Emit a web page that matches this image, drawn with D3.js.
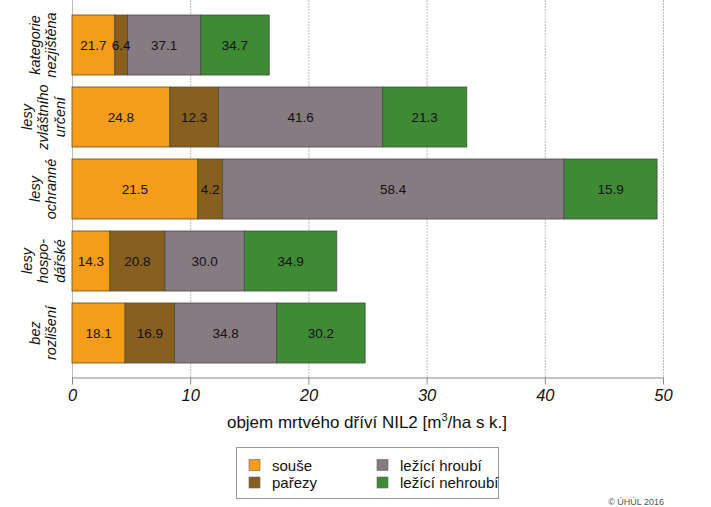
<!DOCTYPE html>
<html><head><meta charset="utf-8">
<script src="https://cdn.jsdelivr.net/npm/d3@7"></script>
<style>body{margin:0;background:#fff}svg{display:block;font-family:"Liberation Sans",Arial,sans-serif}</style>
</head><body>
<script>
// categories top to bottom (lines of each label)
const categories = [
  ["kategorie","nezjištěna"],
  ["lesy","zvláštního","určení"],
  ["lesy","ochranné"],
  ["lesy","hospo-","dářské"],
  ["bez","rozlišení"]
];
const totals = [16.7, 33.4, 49.5, 22.4, 24.8];
const seriesNames = ["souše","pařezy","ležící hroubí","ležící nehroubí"];
const souse   = [21.7, 24.8, 21.5, 14.3, 18.1];
const parezy  = [6.4, 12.3, 4.2, 20.8, 16.9];
const hroubi  = [37.1, 41.6, 58.4, 30.0, 34.8];
const nehroubi= [34.7, 21.3, 15.9, 34.9, 30.2];
const xTicks = [0,10,20,30,40,50];
const colors = ["#f59d18","#87601f","#877b82","#3f8b35"];

const W=711,H=507;
const svg=d3.select("body").append("svg").attr("width",W).attr("height",H);
const x=d3.scaleLinear().domain([0,50]).range([72,663]);
const y=d3.scaleBand().domain(d3.range(categories.length)).range([9,369]).paddingInner(1/6).paddingOuter(1/12);
const axisY=377.5;

// grid
svg.append("g").selectAll("line").data(xTicks).join("line")
  .attr("x1",d=>x(d)+0.5).attr("x2",d=>x(d)+0.5).attr("y1",0).attr("y2",axisY)
  .attr("stroke","#bbb").attr("stroke-width",1).attr("stroke-dasharray",d=>d===0?null:"2,1");

const pcts=[souse,parezy,hroubi,nehroubi];
const rows=categories.map((c,i)=>{
  let cum=0;
  return pcts.map((arr,k)=>{
    const v=totals[i]*arr[i]/100;
    const seg={i,k,x0:cum,x1:cum+v,label:arr[i].toFixed(1)};
    cum+=v; return seg;
  });
}).flat();

const g=svg.append("g");
g.selectAll("rect").data(rows).join("rect")
  .attr("x",d=>x(d.x0)).attr("y",d=>y(d.i)).attr("width",d=>x(d.x1)-x(d.x0)).attr("height",y.bandwidth())
  .attr("fill",d=>colors[d.k]).attr("stroke","#4a4a4a").attr("stroke-width",0.8);
g.selectAll("text").data(rows).join("text")
  .attr("x",d=>(x(d.x0)+x(d.x1))/2).attr("y",d=>y(d.i)+y.bandwidth()/2)
  .attr("text-anchor","middle").attr("dominant-baseline","central")
  .attr("font-size",13.5).attr("fill","#111").text(d=>d.label);

// category labels
categories.forEach((lines,i)=>{
  const cy=y(i)+y.bandwidth()/2;
  const n=lines.length, lh=16.5;
  const cx=43;
  const t=svg.append("text").attr("transform",`translate(${cx},${cy}) rotate(-90)`)
    .attr("text-anchor","middle").attr("font-style","italic").attr("font-size",14.5).attr("fill","#111");
  lines.forEach((l,j)=>{
    t.append("tspan").attr("x",0).attr("y",(j-(n-1)/2)*lh).attr("dominant-baseline","central").text(l);
  });
});

// x axis
const ax=svg.append("g").attr("transform",`translate(0,${axisY})`)
  .call(d3.axisBottom(x).tickValues(xTicks).tickSize(7).tickPadding(5).tickFormat(d3.format("d")));
ax.select(".domain").attr("stroke","#888").attr("d",`M${x(0)},0.5H${x(50)}`);
ax.selectAll(".tick line").attr("stroke","#888");
ax.selectAll(".tick text").attr("font-size",16.5).attr("font-style","italic").attr("fill","#111")
  .attr("font-family","Liberation Sans, Arial, sans-serif");

const title=svg.append("text").attr("x",367).attr("y",428).attr("text-anchor","middle")
  .attr("font-size",17).attr("fill","#111");
title.append("tspan").text("objem mrtvého dříví NIL2 [m");
title.append("tspan").attr("font-size",11).attr("dy",-7).text("3");
title.append("tspan").attr("dy",7).text("/ha s k.]");

// legend
svg.append("rect").attr("x",236.5).attr("y",447.5).attr("width",262).attr("height",51)
  .attr("fill","#fff").attr("stroke","#999").attr("stroke-width",1);
const legPos=[[249,465],[249,482.5],[377,465],[377,482.5]];
seriesNames.forEach((n,k)=>{
  const [lx,ly]=legPos[k];
  svg.append("rect").attr("x",lx).attr("y",ly-5.5).attr("width",11).attr("height",11)
    .attr("fill",colors[k]).attr("stroke","#666").attr("stroke-width",0.6);
  svg.append("text").attr("x",lx+23).attr("y",ly).attr("dominant-baseline","central")
    .attr("font-size",15).attr("fill","#111").text(n);
});
svg.append("text").attr("x",664).attr("y",505).attr("text-anchor","end").attr("font-size",9)
  .attr("fill","#555").text("© ÚHÚL 2016");
</script>
</body></html>
